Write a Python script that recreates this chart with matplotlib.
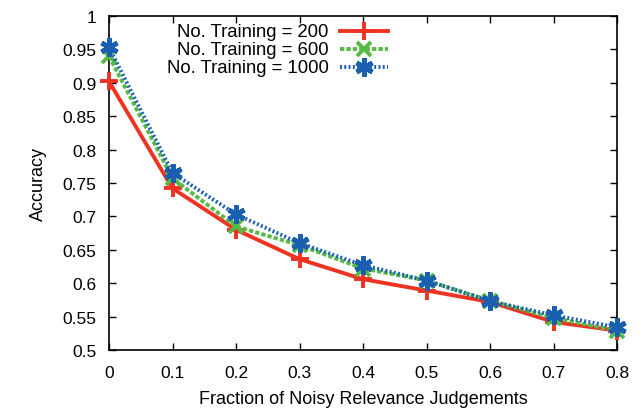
import matplotlib
matplotlib.use("Agg")
import matplotlib.pyplot as plt
import numpy as np

noise = [0.0, 0.1, 0.2, 0.3, 0.4, 0.5, 0.6, 0.7, 0.8]
acc_200 = [0.902, 0.742, 0.680, 0.636, 0.606, 0.589, 0.572, 0.542, 0.529]
acc_600 = [0.940, 0.757, 0.685, 0.657, 0.622, 0.604, 0.574, 0.548, 0.529]
acc_1000 = [0.953, 0.765, 0.703, 0.660, 0.627, 0.604, 0.573, 0.552, 0.534]
labels = ["No. Training = 200", "No. Training = 600", "No. Training = 1000"]

plt.rcParams["font.family"] = ["Liberation Sans", "DejaVu Sans"]

fig = plt.figure(figsize=(6.41, 4.10), dpi=100)
ax = fig.add_axes([109 / 641, 59 / 410, 508 / 641, 334 / 410])

styles = [
    dict(color="#ee3322", ls="-", marker="+", ms=13, mew=2.8),
    dict(color="#55bb44", ls=(0, (1.1, 0.55)), marker="x", ms=10, mew=2.8),
    dict(color="#1a5fb0", ls=(0, (0.5, 0.6)), marker=(6, 2, 0), ms=13, mew=3.4),
]
series = [acc_200, acc_600, acc_1000]
for vals, st in zip(series, styles):
    ax.plot(noise, vals, lw=2.8, clip_on=False, zorder=3, **st)

ax.set_xlim(0, 0.8)
ax.set_ylim(0.5, 1.0)
ax.set_xticks(noise)
ax.set_xticklabels([f"{v:g}" for v in noise])
yt = np.round(np.arange(0.5, 1.0001, 0.05), 2)
ax.set_yticks(yt)
ax.set_yticklabels([f"{v:g}" for v in yt])
ax.tick_params(direction="in", top=True, right=True, length=5, width=1, labelsize=12.5)
ax.tick_params(axis="x", pad=11)
ax.tick_params(axis="y", pad=9)
for s in ax.spines.values():
    s.set_linewidth(1.2)
ax.set_xlabel("Fraction of Noisy Relevance Judgements", fontsize=13, labelpad=7)
ax.set_ylabel("Accuracy", fontsize=13, labelpad=11)

# gnuplot-style key: right-aligned text, sample line to its right
key_y = [0.955, 0.901, 0.846]
for lab, st, yk in zip(labels, styles, key_y):
    ax.text(0.432, yk, lab, transform=ax.transAxes, ha="right", va="center", fontsize=13.3)
    ax.plot([0.454, 0.550], [yk, yk], transform=ax.transAxes, lw=2.8,
            color=st["color"], ls=st["ls"], clip_on=False)
    ax.plot([0.502], [yk], transform=ax.transAxes, ls="none", color=st["color"],
            marker=st["marker"], ms=st["ms"], mew=st["mew"], clip_on=False)

fig.savefig("out.png", dpi=100)
